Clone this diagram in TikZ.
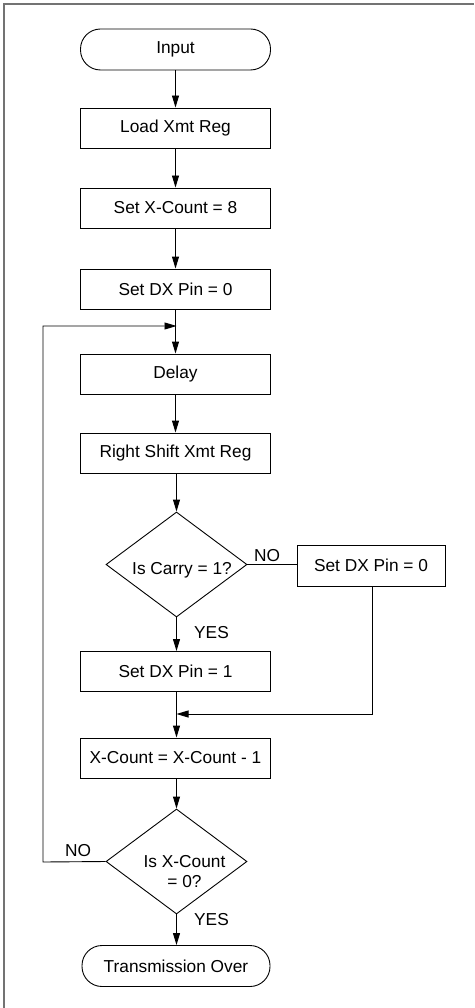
\documentclass[tikz,border=0pt]{standalone}
\usepackage{fontspec}
\setmainfont{Liberation Sans}
\usetikzlibrary{shapes.geometric,arrows.meta}
\tikzset{
  box/.style={draw, line width=0.9pt, rectangle, minimum width=190pt, minimum height=40pt, inner sep=0pt},
  term/.style={draw, line width=0.9pt, rectangle, rounded corners=20pt, minimum width=190pt, minimum height=41pt, inner sep=0pt},
  dec/.style={draw, line width=0.9pt, diamond, aspect=1.34, minimum width=141pt, minimum height=105pt, inner sep=0pt},
  lbl/.style={inner sep=0pt},
  conn/.style={line width=0.9pt},
  arr/.style={line width=0.9pt, -{Triangle[length=12pt,width=7pt]}},
}
\begin{document}
\begin{tikzpicture}[x=1pt,y=-1pt,font=\fontsize{17.3}{20.5}\selectfont]
\useasboundingbox (0,0) rectangle (474,1008);
\draw[line width=2pt, color=black!55] (3.5,1008) -- (3.5,4.5) -- (474,4.5);

\node[term] (input) at (175.5,49.5) {Input};
\node[box] (load) at (175.5,128) {Load Xmt Reg};
\node[box] (setx) at (175.5,208) {Set X-Count = 8};
\node[box] (setdx0) at (175.5,289) {Set DX Pin = 0};
\node[box] (delay) at (175.5,374) {Delay};
\node[box] (shift) at (175.5,453) {Right Shift Xmt Reg};
\node[dec] (carry) at (176.5,564.5) {};
\node[lbl] (carryt) at (182,570) {Is Carry = 1?};
\node[box, minimum width=148pt, minimum height=41pt] (setdx0b) at (371,565.5) {Set DX Pin = 0};
\node[box] (setdx1) at (175.5,671.5) {Set DX Pin = 1};
\node[box] (dec) at (175.5,758) {X-Count = X-Count - 1};
\node[dec] (zero) at (176.5,861.5) {};
\node[lbl, align=center] (zerot) at (184.5,871.5) {Is X-Count\\[-1pt]= 0?};
\node[term, minimum width=188pt] (over) at (176,966) {Transmission Over};

\coordinate (loopin) at (176.5,326);
\coordinate (loopcorner) at (43,326);
\coordinate (loopbot) at (43,862);
\coordinate (mergein) at (176.5,714);
\coordinate (mergecorner) at (372,714);

\node[lbl] (no1) at (267,555.5) {NO};
\node[lbl] (yes1) at (211.5,632.5) {YES};
\node[lbl] (no2) at (78,850.5) {NO};
\node[lbl] (yes2) at (211.5,920) {YES};

\draw[arr] (input) -- (load);
\draw[arr] (load) -- (setx);
\draw[arr] (setx) -- (setdx0);
\draw[arr] (setdx0) -- (delay);
\draw[arr] (delay) -- (shift);
\draw[arr] (shift.south -| carry.north) -- (carry.north);
\draw[conn] (carry.east) -- (carry.east -| setdx0b.west);
\draw[arr] (carry.south) -- (setdx1.north -| carry.south);
\draw[arr] (setdx1.south -| carry.south) -- (dec.north -| carry.south);
\draw[arr] (mergecorner |- setdx0b.south) -- (mergecorner) -- (mergein);
\draw[arr] (dec.south -| zero.north) -- (zero.north);
\draw[arr] (zero.south) -- (over.north -| zero.south);
\draw[arr] (zero.west) -- (loopbot) -- (loopcorner) -- (loopin);
\end{tikzpicture}
\end{document}
